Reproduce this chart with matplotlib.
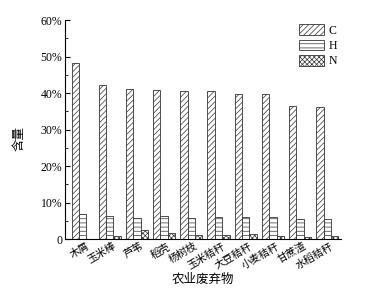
import matplotlib
matplotlib.use("Agg")
import matplotlib.pyplot as plt
import numpy as np
from matplotlib.ticker import FixedLocator, FuncFormatter, MultipleLocator

plt.rcParams["font.family"] = ["Liberation Serif", "Noto Sans CJK SC"]
plt.rcParams["hatch.linewidth"] = 0.5

CATEGORIES = ["木屑", "玉米棒", "芦苇", "稻壳", "杨树枝",
              "玉米秸秆", "大豆秸秆", "小麦秸秆", "甘蔗渣", "水稻秸秆"]
C_VALUES = [48.3, 42.1, 41.0, 40.7, 40.6, 40.5, 39.6, 39.6, 36.5, 36.1]
H_VALUES = [6.8, 6.3, 5.8, 6.2, 5.8, 6.0, 6.0, 6.0, 5.6, 5.5]
N_VALUES = [0.1, 0.8, 2.4, 1.6, 1.0, 1.2, 1.5, 0.8, 0.5, 0.8]

fig = plt.figure(figsize=(3.68, 2.92), dpi=100)
ax = fig.add_axes([0.177, 0.1815, 0.75, 0.75])

x = np.arange(len(CATEGORIES))
w = 0.27
edge = "#333333"
ax.bar(x - w, C_VALUES, width=w, color="white", edgecolor=edge,
       linewidth=0.6, hatch="//////", label="C")
ax.bar(x, H_VALUES, width=w, color="white", edgecolor=edge,
       linewidth=0.6, hatch="----", label="H")
ax.bar(x + w, N_VALUES, width=w, color="white", edgecolor=edge,
       linewidth=0.6, hatch="xxxxxxx", label="N")

ax.set_xlim(-0.64, 9.51)
ax.set_ylim(0, 60)
ax.yaxis.set_major_locator(MultipleLocator(10))
ax.yaxis.set_minor_locator(MultipleLocator(5))
ax.yaxis.set_major_formatter(
    FuncFormatter(lambda v, p: "0" if v == 0 else f"{v:.0f}%"))
ax.tick_params(axis="y", direction="in", length=3.5, width=0.8,
               labelsize=8.5, pad=2)
ax.tick_params(axis="y", which="minor", direction="in", length=2, width=0.6)

ax.xaxis.set_major_locator(FixedLocator(x + 0.3))
ax.set_xticklabels(CATEGORIES, rotation=30, ha="right", fontsize=7.5)
ax.tick_params(axis="x", length=0, pad=1.5)

ax.spines["top"].set_visible(False)
ax.spines["right"].set_visible(False)
for s in ("left", "bottom"):
    ax.spines[s].set_linewidth(0.8)

ax.set_ylabel("含量", fontsize=9)
ax.yaxis.set_label_coords(-0.145, 0.46)
ax.set_xlabel("农业废弃物", fontsize=9)
ax.xaxis.set_label_coords(0.5, -0.16)

ax.legend(loc="upper left", bbox_to_anchor=(0.848, 0.98), frameon=False,
          fontsize=8.5, handlelength=2.1, handleheight=1.0,
          handletextpad=0.4, labelspacing=0.25, borderpad=0,
          borderaxespad=0)

fig.savefig("out.png", dpi=100)
